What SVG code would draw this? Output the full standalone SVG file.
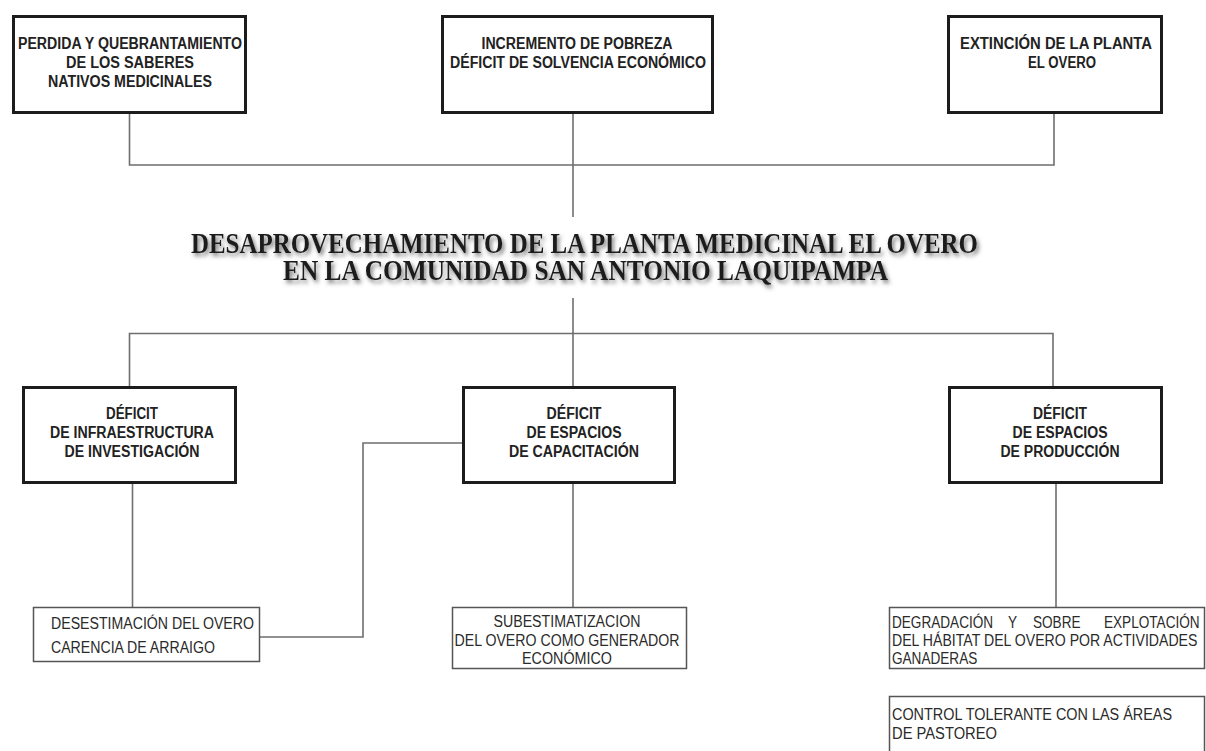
<svg xmlns="http://www.w3.org/2000/svg" width="1206" height="751" viewBox="0 0 1206 751">
<style>
.box{fill:#fff;stroke:#1c1c1c;stroke-width:3}
.sbox{fill:#fff;stroke:#555;stroke-width:1.5}
.con{fill:none;stroke:#6e6e6e;stroke-width:1.6}
.bt{font-family:"Liberation Sans",Arial,sans-serif;font-weight:bold;font-size:16px;fill:#222;text-anchor:middle}
.st{font-family:"Liberation Sans",Arial,sans-serif;font-size:16px;fill:#2a2a2a}
.title{font-family:"Liberation Serif","Times New Roman",serif;font-weight:bold;font-size:30px;fill:#1a1a1a;text-anchor:middle}
</style>
<defs>
<filter id="sh" x="-5%" y="-30%" width="110%" height="160%">
<feDropShadow dx="2" dy="3" stdDeviation="2" flood-color="#555" flood-opacity="0.8"/>
</filter>
</defs>
<rect width="1206" height="751" fill="#fff"/>
<g id="connectors">
<polyline class="con" points="129.5,114 129.5,165 1054,165 1054,114"/>
<line class="con" x1="573" y1="114" x2="573" y2="217"/>
<line class="con" x1="573" y1="298" x2="573" y2="386"/>
<polyline class="con" points="129.5,386 129.5,333.5 1053,333.5 1053,386"/>
<line class="con" x1="132.5" y1="484" x2="132.5" y2="607"/>
<line class="con" x1="573" y1="484" x2="573" y2="607"/>
<line class="con" x1="1056" y1="484" x2="1056" y2="607"/>
<polyline class="con" points="260,637 363,637 363,443 462,443"/>
</g>
<g id="n-perdida">
<rect class="box" x="13.5" y="16.5" width="232" height="96"/>
<text class="bt" x="130" y="49" textLength="224" lengthAdjust="spacingAndGlyphs">PERDIDA Y QUEBRANTAMIENTO</text>
<text class="bt" x="130" y="68" textLength="128" lengthAdjust="spacingAndGlyphs">DE LOS SABERES</text>
<text class="bt" x="130" y="87" textLength="164" lengthAdjust="spacingAndGlyphs">NATIVOS MEDICINALES</text>
</g>
<g id="n-pobreza">
<rect class="box" x="442.5" y="16.5" width="270" height="96"/>
<text class="bt" x="577" y="49" textLength="191" lengthAdjust="spacingAndGlyphs">INCREMENTO DE POBREZA</text>
<text class="bt" x="578" y="68" textLength="256" lengthAdjust="spacingAndGlyphs">DÉFICIT DE SOLVENCIA ECONÓMICO</text>
</g>
<g id="n-extincion">
<rect class="box" x="948.5" y="16.5" width="213" height="96"/>
<text class="bt" x="1056" y="49" textLength="192" lengthAdjust="spacingAndGlyphs">EXTINCIÓN DE LA PLANTA</text>
<text class="bt" x="1062" y="68" textLength="68" lengthAdjust="spacingAndGlyphs">EL OVERO</text>
</g>
<g id="n-title" filter="url(#sh)">
<text class="title" x="584.5" y="253" textLength="787" lengthAdjust="spacingAndGlyphs">DESAPROVECHAMIENTO DE LA PLANTA MEDICINAL EL OVERO</text>
<text class="title" x="585.5" y="280" textLength="605" lengthAdjust="spacingAndGlyphs">EN LA COMUNIDAD SAN ANTONIO LAQUIPAMPA</text>
</g>
<g id="n-infra">
<rect class="box" x="23.5" y="387.5" width="212" height="95"/>
<text class="bt" x="132" y="419" textLength="52" lengthAdjust="spacingAndGlyphs">DÉFICIT</text>
<text class="bt" x="132" y="438" textLength="164" lengthAdjust="spacingAndGlyphs">DE INFRAESTRUCTURA</text>
<text class="bt" x="132" y="457" textLength="135" lengthAdjust="spacingAndGlyphs">DE INVESTIGACIÓN</text>
</g>
<g id="n-capacitacion">
<rect class="box" x="463.5" y="387.5" width="211" height="95"/>
<text class="bt" x="574" y="419" textLength="55" lengthAdjust="spacingAndGlyphs">DÉFICIT</text>
<text class="bt" x="574" y="438" textLength="95" lengthAdjust="spacingAndGlyphs">DE ESPACIOS</text>
<text class="bt" x="574" y="457" textLength="130" lengthAdjust="spacingAndGlyphs">DE CAPACITACIÓN</text>
</g>
<g id="n-produccion">
<rect class="box" x="949.5" y="387.5" width="212" height="95"/>
<text class="bt" x="1060" y="419" textLength="54" lengthAdjust="spacingAndGlyphs">DÉFICIT</text>
<text class="bt" x="1060" y="438" textLength="95" lengthAdjust="spacingAndGlyphs">DE ESPACIOS</text>
<text class="bt" x="1060" y="457" textLength="119" lengthAdjust="spacingAndGlyphs">DE PRODUCCIÓN</text>
</g>
<g id="n-desestimacion">
<rect class="sbox" x="33.5" y="607.5" width="226" height="54"/>
<text class="st" x="51" y="629" textLength="203" lengthAdjust="spacingAndGlyphs">DESESTIMACIÓN DEL OVERO</text>
<text class="st" x="51" y="653" textLength="164" lengthAdjust="spacingAndGlyphs">CARENCIA DE ARRAIGO</text>
</g>
<g id="n-subestimatizacion">
<rect class="sbox" x="452.5" y="607.5" width="234" height="61"/>
<text class="st" x="567" y="627" text-anchor="middle" textLength="147" lengthAdjust="spacingAndGlyphs">SUBESTIMATIZACION</text>
<text class="st" x="567" y="645.5" text-anchor="middle" textLength="225" lengthAdjust="spacingAndGlyphs">DEL OVERO COMO GENERADOR</text>
<text class="st" x="567" y="664" text-anchor="middle" textLength="90" lengthAdjust="spacingAndGlyphs">ECONÓMICO</text>
</g>
<g id="n-degradacion">
<rect class="sbox" x="889.5" y="607.5" width="315" height="61"/>
<text class="st" transform="translate(892,628) scale(0.85,1)">DEGRADACIÓN</text>
<text class="st" transform="translate(1008,628) scale(0.85,1)">Y</text>
<text class="st" transform="translate(1033,628) scale(0.85,1)">SOBRE</text>
<text class="st" transform="translate(1104,628) scale(0.85,1)">EXPLOTACIÓN</text>
<text class="st" transform="translate(892,646) scale(0.882,1)">DEL HÁBITAT DEL OVERO POR ACTIVIDADES</text>
<text class="st" transform="translate(892,664) scale(0.85,1)">GANADERAS</text>
</g>
<g id="n-control">
<rect class="sbox" x="889.5" y="696.5" width="315" height="70"/>
<text class="st" x="892" y="720" textLength="280" lengthAdjust="spacingAndGlyphs">CONTROL TOLERANTE CON LAS ÁREAS</text>
<text class="st" x="892" y="739" textLength="105" lengthAdjust="spacingAndGlyphs">DE PASTOREO</text>
</g>
</svg>
